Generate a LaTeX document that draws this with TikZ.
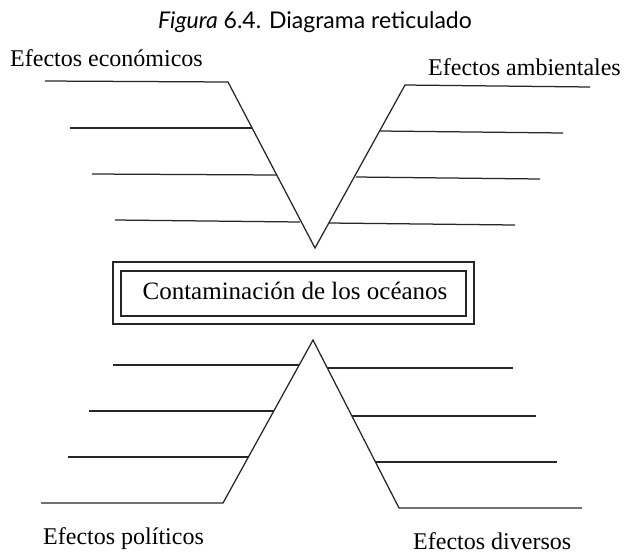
\documentclass[tikz,border=0pt]{standalone}
\usepackage{fontspec}
\setmainfont{Liberation Serif}
\newfontfamily\titlefont{Lato}
\begin{document}
\begin{tikzpicture}[x=1pt,y=-1pt,
  branch/.style={draw=black!85, line width=1.25pt, line join=miter},
  label/.style={anchor=base west, inner sep=0pt, font=\fontsize{24}{28}\selectfont},
  frame/.style={draw=black!85, line width=1.3pt}]
\useasboundingbox (0,0) rectangle (631,555);
% title
\node[anchor=base, inner sep=0pt, font=\titlefont\fontsize{23}{27}\selectfont] (title) at (315,28) {\textit{Figura} 6.4. Diagrama reticulado};
% labels
\node[label] (econ) at (10,66) {Efectos económicos};
\node[label] (amb) at (428,75) {Efectos ambientales};
\node[label] (pol) at (43,544) {Efectos políticos};
\node[label] (div) at (413,549) {Efectos diversos};
% top V
\coordinate (t0) at (45,81);
\coordinate (t1) at (228,82);
\coordinate (tA) at (315,248);
\coordinate (t2) at (405,85);
\coordinate (t3) at (590,87);
\draw[branch] (t0) -- (t1) -- (tA) -- (t2) -- (t3);
\draw[branch] (70,128) -- (252,128);
\draw[branch] (92,174) -- (277,175);
\draw[branch] (115,220) -- (300,222);
\draw[branch] (380,131) -- (563,133);
\draw[branch] (356,177) -- (540,179);
\draw[branch] (329,223) -- (515,225);
% central box
\draw[frame] (113,262) rectangle (474,324);
\draw[frame] (121,271) rectangle (466,316);
\node[anchor=base, inner sep=0pt, font=\fontsize{25}{30}\selectfont] (tema) at (295,299) {Contaminación de los océanos};
% bottom Lambda
\coordinate (b0) at (41,503);
\coordinate (b1) at (223,503);
\coordinate (bA) at (313,340);
\coordinate (b2) at (399,508);
\coordinate (b3) at (582,508);
\draw[branch] (b0) -- (b1) -- (bA) -- (b2) -- (b3);
\draw[branch] (113,365) -- (299,365);
\draw[branch] (89,411) -- (274,411);
\draw[branch] (68,457) -- (249,457);
\draw[branch] (328,368) -- (513,368);
\draw[branch] (352,416) -- (536,416);
\draw[branch] (376,462) -- (557,462);
\end{tikzpicture}
\end{document}
